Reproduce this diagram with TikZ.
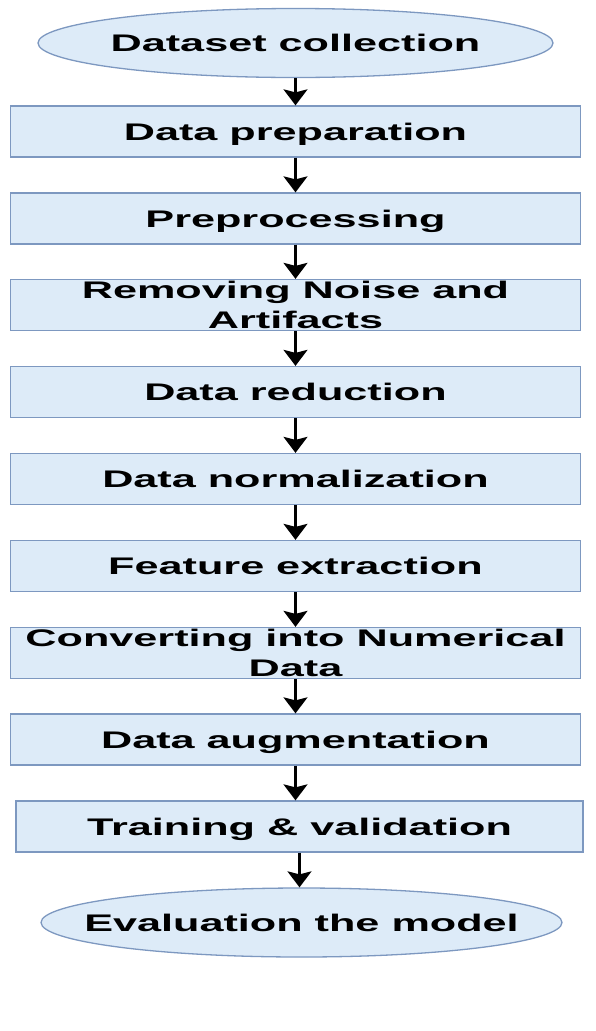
\documentclass[tikz,border=0pt]{standalone}
\usepackage{fontspec}
\setmainfont{Liberation Sans}[FakeStretch=1.8]
\usetikzlibrary{arrows.meta,shapes.geometric}
\definecolor{boxfill}{RGB}{221,235,248}
\definecolor{boxline}{RGB}{125,152,192}
\newcommand{\ztext}[1]{\makebox[0pt]{#1}}
\begin{document}
\begin{tikzpicture}[x=1pt,y=-1pt,
  lbl/.style={font=\fontsize{24}{30}\selectfont\bfseries,align=center,text=black,text height=17pt,text depth=0pt},
  twoline/.style={text height=47pt,text depth=0pt},
  stepbox/.style={lbl,rectangle,draw=boxline,fill=boxfill,line width=1.3pt,minimum width=570pt,minimum height=51pt,inner sep=0pt},
  endnode/.style={lbl,ellipse,draw=boxline,fill=boxfill,line width=1.3pt,minimum width=515pt,minimum height=69pt,inner sep=0pt},
  arr/.style={-{Stealth[length=16pt,width=24pt,inset=3pt]},line width=2.2pt,black}]
\useasboundingbox (0,0) rectangle (595,1031);
\node[endnode] (e1) at (295.5,43) {\ztext{Dataset collection}};
\node[stepbox] (b1) at (295.5,131.5) {Data preparation};
\node[stepbox] (b2) at (295.5,218.5) {Preprocessing};
\node[stepbox,twoline] (b3) at (295.5,305) {Removing Noise and\\Artifacts};
\node[stepbox] (b4) at (295.5,392) {Data reduction};
\node[stepbox] (b5) at (295.5,479) {Data normalization};
\node[stepbox] (b6) at (295.5,566) {Feature extraction};
\node[stepbox,twoline] (b7) at (295.5,653) {Converting into Numerical\\Data};
\node[stepbox] (b8) at (295.5,739.5) {Data augmentation};
\node[stepbox,minimum width=567pt] (b9) at (299.5,826.5) {Training \& validation};
\node[endnode,minimum width=521pt] (e2) at (301.5,922.5) {\ztext{Evaluation the model}};
\draw[arr] (e1.south) -- (b1.north);
\draw[arr] (b1.south) -- (b2.north);
\draw[arr] (b2.south) -- (b3.north);
\draw[arr] (b3.south) -- (b4.north);
\draw[arr] (b4.south) -- (b5.north);
\draw[arr] (b5.south) -- (b6.north);
\draw[arr] (b6.south) -- (b7.north);
\draw[arr] (b7.south) -- (b8.north);
\draw[arr] (b8.south) -- (b8.south |- b9.north);
\draw[arr] (b9.south) -- (b9.south |- e2.north);
\end{tikzpicture}
\end{document}
